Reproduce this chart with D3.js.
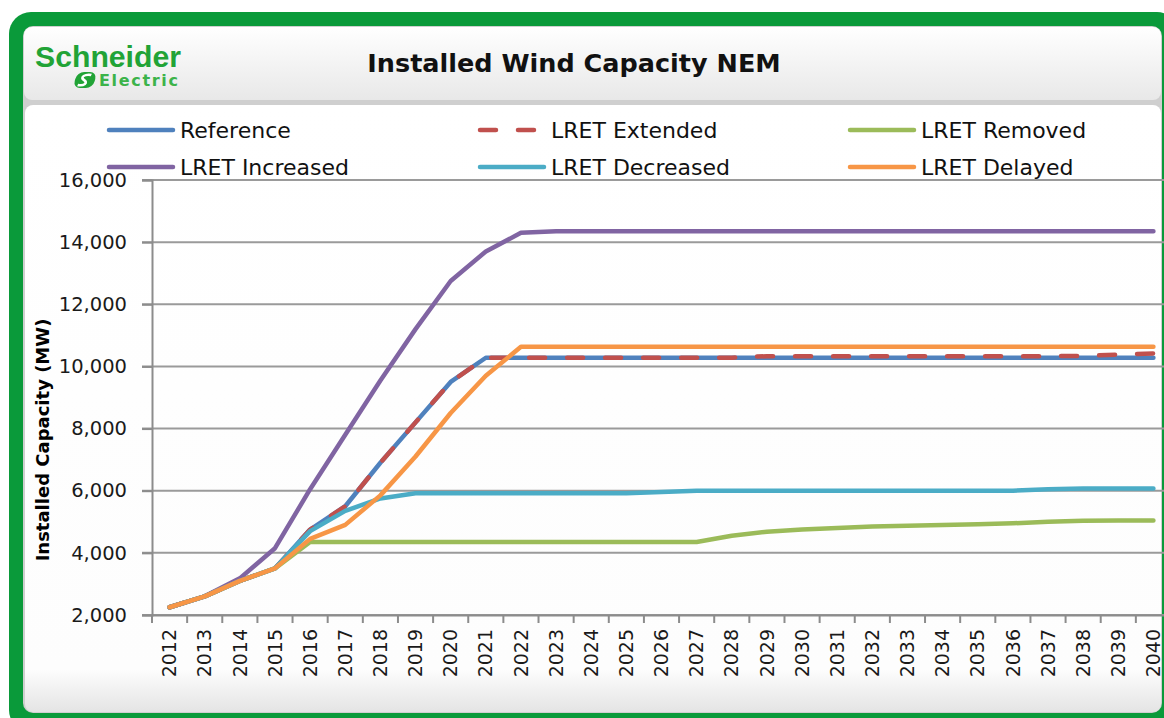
<!DOCTYPE html>
<html>
<head>
<meta charset="utf-8">
<script src="https://cdn.jsdelivr.net/npm/d3@7"></script>
<style>
body { margin: 0; background: #fff; }
</style>
</head>
<body>
<div id="chart"></div>
<script>
var years = [2012, 2013, 2014, 2015, 2016, 2017, 2018, 2019, 2020, 2021, 2022, 2023, 2024, 2025, 2026,
  2027, 2028, 2029, 2030, 2031, 2032, 2033, 2034, 2035, 2036, 2037, 2038, 2039, 2040];

var reference = [2250, 2600, 3100, 3500, 4750, 5500, 6900, 8200, 9500, 10280, 10280, 10280, 10280, 10280, 10280,
  10280, 10280, 10280, 10280, 10280, 10280, 10280, 10280, 10280, 10280, 10280, 10280, 10280, 10280];
var extended = [2250, 2600, 3100, 3500, 4750, 5500, 6900, 8200, 9500, 10280, 10280, 10280, 10280, 10280, 10280,
  10280, 10280, 10330, 10330, 10330, 10330, 10330, 10330, 10330, 10330, 10330, 10340, 10380, 10420];
var removed = [2250, 2600, 3100, 3500, 4350, 4350, 4350, 4350, 4350, 4350, 4350, 4350, 4350, 4350, 4350,
  4350, 4550, 4680, 4750, 4800, 4850, 4870, 4900, 4920, 4950, 5000, 5030, 5040, 5040];
var increased = [2250, 2600, 3180, 4150, 6050, 7800, 9550, 11200, 12750, 13700, 14300, 14350, 14350, 14350, 14350,
  14350, 14350, 14350, 14350, 14350, 14350, 14350, 14350, 14350, 14350, 14350, 14350, 14350, 14350];
var decreased = [2250, 2600, 3100, 3500, 4700, 5350, 5750, 5920, 5920, 5920, 5920, 5920, 5920, 5920, 5960,
  6000, 6000, 6000, 6000, 6000, 6000, 6000, 6000, 6000, 6000, 6050, 6070, 6070, 6070];
var delayed = [2250, 2600, 3100, 3500, 4450, 4900, 5850, 7100, 8500, 9700, 10630, 10630, 10630, 10630, 10630,
  10630, 10630, 10630, 10630, 10630, 10630, 10630, 10630, 10630, 10630, 10630, 10630, 10630, 10630];

var yTicks = [2000, 4000, 6000, 8000, 10000, 12000, 14000, 16000];

var series = [
  {name: "Reference", values: reference, color: "#4f81bd", dash: null},
  {name: "LRET Extended", values: extended, color: "#c0504d", dash: "16,22"},
  {name: "LRET Removed", values: removed, color: "#9bbb59", dash: null},
  {name: "LRET Increased", values: increased, color: "#8064a2", dash: null},
  {name: "LRET Decreased", values: decreased, color: "#4bacc6", dash: null},
  {name: "LRET Delayed", values: delayed, color: "#f79646", dash: null}
];

var W = 1164, H = 718;
var svg = d3.select("#chart").append("svg")
  .attr("width", W)
  .attr("height", H);

var defs = svg.append("defs");
var hg = defs.append("linearGradient").attr("id", "headGrad").attr("x1", 0).attr("y1", 0).attr("x2", 0).attr("y2", 1);
hg.append("stop").attr("offset", "0%").attr("stop-color", "#ffffff");
hg.append("stop").attr("offset", "100%").attr("stop-color", "#e8e8e8");
var bg = defs.append("linearGradient").attr("id", "bodyGrad").attr("x1", 0).attr("y1", 0).attr("x2", 0).attr("y2", 1);
bg.append("stop").attr("offset", "0%").attr("stop-color", "#ffffff");
bg.append("stop").attr("offset", "93%").attr("stop-color", "#fdfdfd");
bg.append("stop").attr("offset", "100%").attr("stop-color", "#e4e4e4");

// green frame
svg.append("rect")
  .attr("x", 9).attr("y", 12).attr("width", 1170).attr("height", 720)
  .attr("rx", 22)
  .attr("fill", "#0a9a3a");
svg.append("rect")
  .attr("x", 23).attr("y", 26).attr("width", 1139).attr("height", 687)
  .attr("rx", 10)
  .attr("fill", "#cfcfcf");
svg.append("rect")
  .attr("x", 24).attr("y", 27).attr("width", 1137).attr("height", 73)
  .attr("rx", 8)
  .attr("fill", "url(#headGrad)");
svg.append("rect")
  .attr("x", 25).attr("y", 105).attr("width", 1136).attr("height", 607)
  .attr("rx", 8)
  .attr("fill", "url(#bodyGrad)");

// logo
svg.append("text")
  .attr("x", 35).attr("y", 67)
  .attr("font-family", "Liberation Sans, Arial, sans-serif")
  .attr("font-weight", "bold")
  .attr("font-size", 29)
  .attr("textLength", 146)
  .attr("lengthAdjust", "spacingAndGlyphs")
  .attr("fill", "#21a336")
  .text("Schneider");
svg.append("text")
  .attr("x", 99).attr("y", 86)
  .attr("font-family", "DejaVu Sans, sans-serif")
  .attr("font-weight", "bold")
  .attr("font-size", 16)
  .attr("textLength", 79)
  .attr("fill", "#3cb34a")
  .text("Electric");
var icon = svg.append("g").attr("transform", "translate(85,80) skewX(-15)");
icon.append("rect")
  .attr("x", -10).attr("y", -8).attr("width", 20).attr("height", 16).attr("rx", 7)
  .attr("fill", "#21a336");
icon.append("path")
  .attr("d", "M5,-5 C-2,-6 -6,-3 -1,0 C4,3 1,6 -6,5")
  .attr("fill", "none")
  .attr("stroke", "#fff")
  .attr("stroke-width", 2.6);

// title
svg.append("text")
  .attr("x", 574).attr("y", 72)
  .attr("text-anchor", "middle")
  .attr("font-family", "DejaVu Sans, sans-serif")
  .attr("font-weight", "bold")
  .attr("font-size", 25.5)
  .attr("fill", "#111")
  .text("Installed Wind Capacity NEM");

// plot area
var pLeft = 152, pRight = 1171, pTop = 180, pBottom = 615;

var xScale = d3.scaleBand()
  .domain(years)
  .range([pLeft, pRight]);

var yScale = d3.scaleLinear()
  .domain([2000, 16000])
  .range([pBottom, pTop]);

// gridlines
svg.append("g")
  .selectAll("line")
  .data(yTicks)
  .enter()
  .append("line")
  .attr("x1", pLeft - 10)
  .attr("x2", pRight)
  .attr("y1", function (d) { return yScale(d); })
  .attr("y2", function (d) { return yScale(d); })
  .attr("stroke", "#9a9a9a")
  .attr("stroke-width", 2);

// y axis
var yAxis = svg.append("g")
  .attr("transform", "translate(" + pLeft + ",0)")
  .call(d3.axisLeft(yScale).tickValues(yTicks).tickSize(10).tickPadding(15).tickFormat(d3.format(",")));
yAxis.select(".domain").attr("stroke", "#8c8c8c").attr("stroke-width", 2);
yAxis.selectAll(".tick line").attr("stroke", "#8c8c8c").attr("stroke-width", 2);
yAxis.selectAll("text")
  .attr("font-family", "DejaVu Sans, sans-serif")
  .attr("font-size", 19.5)
  .attr("fill", "#1a1a1a");

// x axis
var xAxis = svg.append("g")
  .attr("transform", "translate(0," + pBottom + ")")
  .call(d3.axisBottom(xScale).tickSize(0).tickSizeOuter(0));
xAxis.select(".domain").attr("stroke", "#8c8c8c").attr("stroke-width", 2);
xAxis.selectAll("text")
  .attr("font-family", "DejaVu Sans, sans-serif")
  .attr("font-size", 19)
  .attr("fill", "#1a1a1a")
  .attr("text-anchor", "end")
  .attr("transform", "translate(0,14) rotate(-90)")
  .attr("x", 0)
  .attr("y", 0)
  .attr("dy", "0.35em");

// category boundary ticks
svg.append("g")
  .selectAll("line")
  .data(years)
  .enter()
  .append("line")
  .attr("x1", function (d) { return xScale(d); })
  .attr("x2", function (d) { return xScale(d); })
  .attr("y1", pBottom)
  .attr("y2", pBottom + 8)
  .attr("stroke", "#8c8c8c")
  .attr("stroke-width", 2);

// y title
svg.append("text")
  .attr("transform", "translate(49,440) rotate(-90)")
  .attr("text-anchor", "middle")
  .attr("font-family", "DejaVu Sans, sans-serif")
  .attr("font-weight", "bold")
  .attr("font-size", 18)
  .attr("fill", "#000")
  .text("Installed Capacity (MW)");

// lines
var line = d3.line()
  .x(function (d, i) { return xScale(years[i]) + xScale.bandwidth() / 2; })
  .y(function (d) { return yScale(d); });

svg.append("g")
  .selectAll("path")
  .data(series)
  .enter()
  .append("path")
  .attr("d", function (d) { return line(d.values); })
  .attr("fill", "none")
  .attr("stroke", function (d) { return d.color; })
  .attr("stroke-width", 4.5)
  .attr("stroke-linecap", "round")
  .attr("stroke-linejoin", "round")
  .attr("stroke-dasharray", function (d) { return d.dash; });

// legend
var legendPos = [[107, 130], [478, 130], [848, 130], [107, 167], [478, 167], [848, 167]];
var legend = svg.append("g")
  .selectAll("g")
  .data(series)
  .enter()
  .append("g")
  .attr("transform", function (d, i) { return "translate(" + legendPos[i][0] + "," + legendPos[i][1] + ")"; });
legend.append("line")
  .attr("x1", 2).attr("x2", 66)
  .attr("y1", 0).attr("y2", 0)
  .attr("stroke", function (d) { return d.color; })
  .attr("stroke-width", 4.5)
  .attr("stroke-linecap", "round")
  .attr("stroke-dasharray", function (d) { return d.dash; });
legend.append("text")
  .attr("x", 73)
  .attr("y", 8)
  .attr("font-family", "DejaVu Sans, sans-serif")
  .attr("font-size", 22)
  .attr("fill", "#111")
  .text(function (d) { return d.name; });
</script>
</body>
</html>
